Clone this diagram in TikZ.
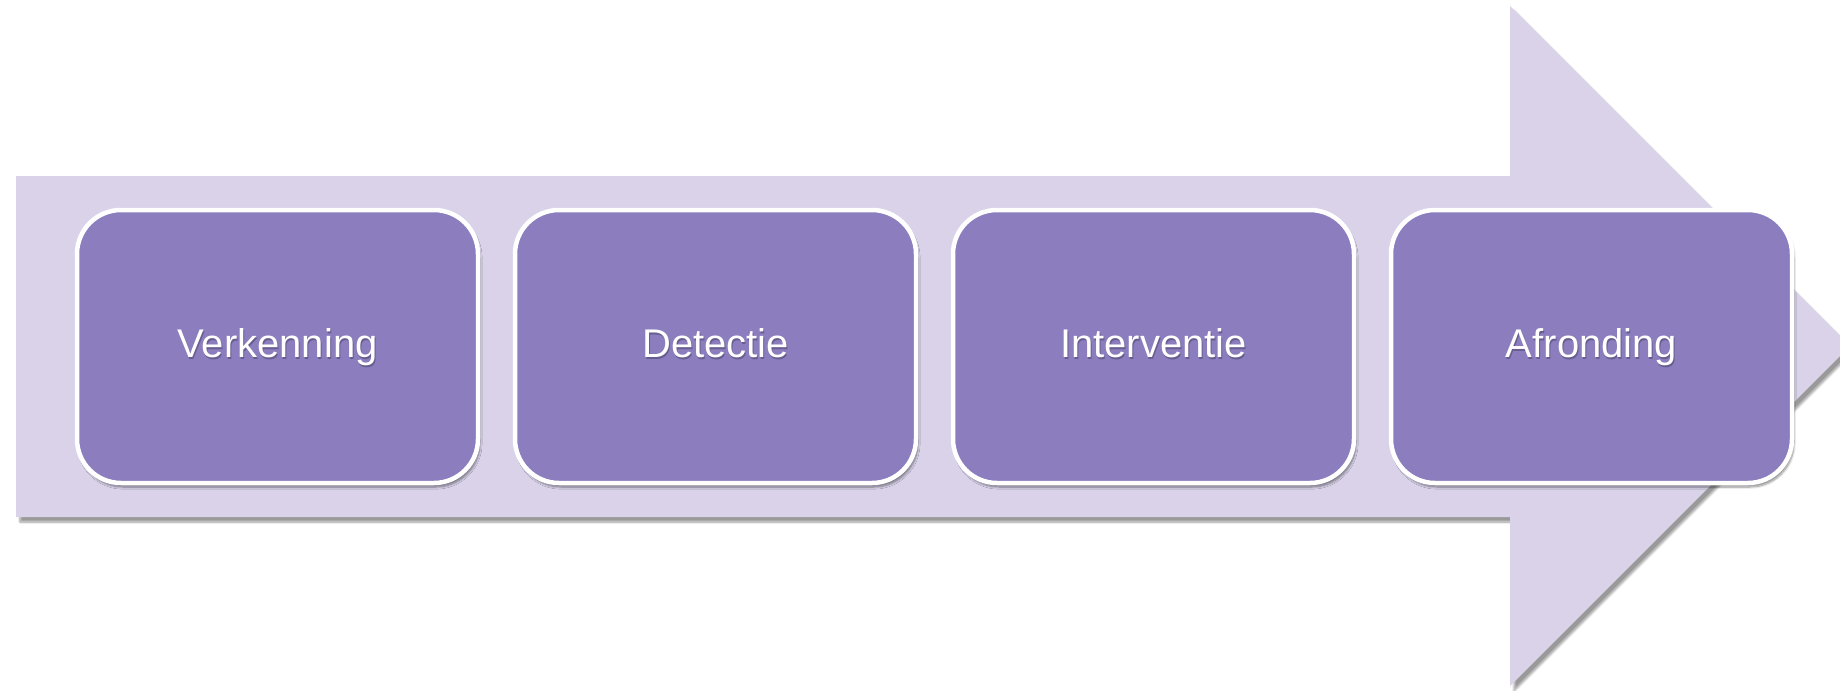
\documentclass[tikz,border=0pt]{standalone}
\usepackage{fontspec}
\setmainfont{Liberation Sans}
\usetikzlibrary{shadows.blur}
\definecolor{arrowfill}{RGB}{217,210,233}
\definecolor{boxfill}{RGB}{139,125,190}
\tikzset{
  stagebox/.style={draw=white, line width=4.5pt, fill=boxfill, rounded corners=44pt,
    minimum width=401pt, minimum height=273pt, inner sep=0pt,
    blur shadow={shadow xshift=2pt, shadow yshift=-4pt, shadow blur steps=8, shadow opacity=45}},
  stagetext/.style={text=white, anchor=base, inner sep=0pt, font=\fontsize{40pt}{44pt}\selectfont},
  stageshadow/.style={text=black, opacity=0.25, anchor=base, inner sep=0pt, font=\fontsize{40pt}{44pt}\selectfont},
  bigarrow/.style={fill=arrowfill,
    blur shadow={shadow xshift=4pt, shadow yshift=-5pt, shadow blur steps=8, shadow opacity=40}}
}
\begin{document}
\begin{tikzpicture}[x=1pt,y=-1pt]
\useasboundingbox (0,0) rectangle (1840,691);
\begin{scope}
\clip (0,0) rectangle (1840,691);
\fill[bigarrow] (16,176) -- (1510,176) -- (1510,6) -- (1850,346) -- (1510,686) -- (1510,517) -- (16,517) -- cycle;
\end{scope}
\foreach \n/\x/\t in {b1/277.5/Verkenning, b2/715.5/Detectie, b3/1153.5/Interventie, b4/1591.5/Afronding}{
  \node[stagebox] (\n) at (\x,346.5) {};
  \node[stageshadow] at ([xshift=1pt,yshift=-12.5pt]\n.center) {\t};
  \node[stagetext] (\n-label) at ([yshift=-10.5pt]\n.center) {\t};
}
\end{tikzpicture}
\end{document}
